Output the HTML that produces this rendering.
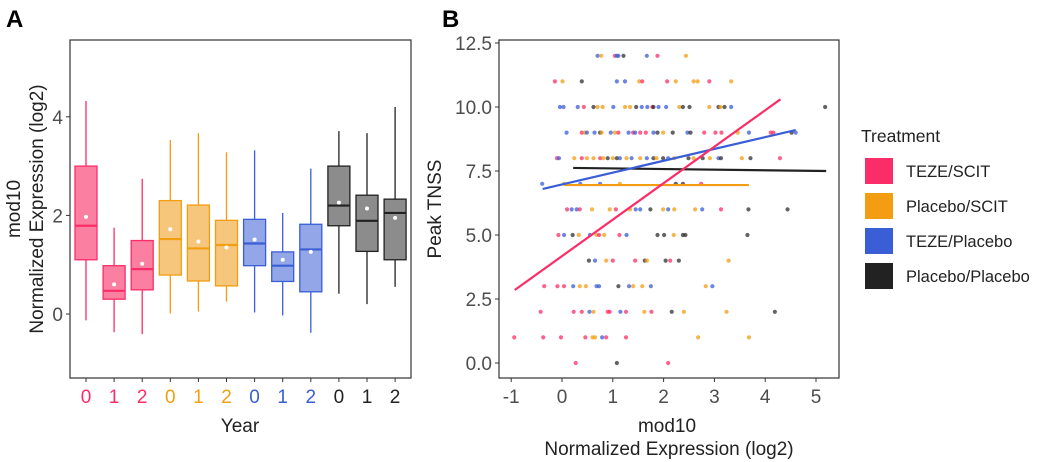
<!DOCTYPE html>
<html><head><meta charset="utf-8">
<style>
html,body{margin:0;padding:0;background:#fff;}
svg{display:block;font-family:"Liberation Sans",sans-serif;}
</style></head>
<body>
<svg id="chart" width="1050" height="462" viewBox="0 0 1050 462" xmlns="http://www.w3.org/2000/svg">
<text x="6" y="27" font-size="24" font-weight="bold">A</text>
<text x="442" y="27" font-size="24" font-weight="bold">B</text>
<g id="pa"></g>
<g id="pb"></g>
<g id="legend">
<text x="861" y="142" font-size="17.5" fill="#222">Treatment</text>
</g>
</svg>
<script>
const groupNames = ["TEZE/SCIT","Placebo/SCIT","TEZE/Placebo","Placebo/Placebo"];
const groupColors = ["#fb2d68","#f29d12","#3a5ed6","#222222"];
const boxFill = ["#fb7fa0","#f6c67c","#93a7e8","#8c8c8c"];
const boxLabels = ["0","1","2","0","1","2","0","1","2","0","1","2"];
const boxGroup = [0,0,0,1,1,1,2,2,2,3,3,3];
const boxLow = [-0.13,-0.37,-0.41,0.01,0.05,0.25,0.03,-0.03,-0.38,0.41,0.2,0.55];
const boxQ1 = [1.1,0.3,0.49,0.79,0.67,0.57,0.98,0.66,0.45,1.79,1.27,1.1];
const boxMed = [1.79,0.47,0.91,1.52,1.33,1.4,1.43,0.98,1.31,2.2,1.89,2.05];
const boxQ3 = [3.0,0.98,1.49,2.3,2.21,1.9,1.92,1.26,1.82,3.0,2.41,2.33];
const boxHigh = [4.32,1.75,2.74,3.53,3.67,3.28,3.32,2.05,2.95,3.71,3.67,4.2];
const boxMean = [1.97,0.6,1.02,1.72,1.47,1.35,1.51,1.1,1.26,2.26,2.14,1.95];
const aTicks = [0,2,4];

const bYTicks = [0,2.5,5,7.5,10,12.5];
const bXTicks = [-1,0,1,2,3,4,5];
const levelY = [12,11,10,9,8,7,6,5,4,3,2,1,0];
const levelPts = [
"b0.70 o0.77 p1.04 b1.08 b1.11 k1.21 b1.67 p1.88 o2.44",
"p-0.14 o0.01 k0.39 b1.08 b1.24 o1.52 p1.58 p2.07 o2.24 o2.59 o2.67 p2.90 o3.33",
"b-0.04 b0.03 b0.31 p0.43 k0.62 o0.70 o0.80 b1.01 o1.24 o1.34 k1.46 b1.57 b1.68 p1.78 k1.80 b1.90 b2.05 o2.31 k2.38 k2.51 o2.90 k3.08 o3.12 k3.20 b3.33 k5.18",
"b0.09 p0.39 o0.45 b0.49 b0.64 k0.75 o0.78 b0.96 o1.04 p1.11 b1.31 p1.40 b1.44 p1.54 p1.65 b1.80 k1.88 o1.99 k2.18 b2.47 k2.53 p2.80 p3.02 p3.14 o3.46 b3.68 p4.11 p4.16 k4.52 b4.60",
"p-0.10 b-0.06 o0.24 p0.39 o0.49 o0.62 p0.75 o0.81 k0.90 o1.00 k1.08 b1.14 o1.27 b1.37 o1.54 b1.67 k1.80 o1.86 k1.99 b2.09 o2.21 k2.49 o2.59 k2.77 o2.91 b3.08 k3.13 o3.54 k3.71 p4.29",
"b-0.39 o0.04 b0.36 b0.75 o1.14 k2.24 k2.38 p2.74",
"p0.10 b0.19 b0.29 p0.35 o0.59 o0.94 p1.06 o1.34 b1.45 b1.54 k1.74 o1.99 b2.09 o2.21 o2.62 b2.76 p3.13 k3.67 k4.44",
"p-0.07 b0.04 k0.21 o0.33 b0.55 o0.68 p0.73 o0.83 p1.13 b1.27 k1.88 k2.01 o2.20 k2.38 k2.43 k3.65",
"k0.53 b0.65 o0.87 p1.00 p1.44 k1.63 o1.67 k2.04 p2.13 k2.30 o3.28",
"p-0.35 p-0.09 p0.04 b0.22 o0.35 o0.47 b0.68 b0.73 k1.11 b1.32 o1.40 o1.58 b1.75 o2.83 b2.96",
"p-0.42 p0.23 p0.39 b0.54 o0.62 p0.90 p0.94 b1.15 p1.26 o1.62 p1.76 k2.16 o2.40 o3.24 k4.19",
"p-0.94 p-0.37 p-0.02 p0.46 o0.60 o0.65 b0.79 p0.87 p1.26 o2.68 o3.68",
"p0.27 k1.08 p2.09"
];
const fitX0 = [-0.93,0.05,-0.38,0.22];
const fitY0 = [2.85,6.95,6.8,7.62];
const fitX1 = [4.3,3.68,4.6,5.2];
const fitY1 = [10.3,6.95,9.1,7.5];

const NS="http://www.w3.org/2000/svg";
function mk(parent,tag,attrs,text){const e=document.createElementNS(NS,tag);for(const k in attrs)e.setAttribute(k,attrs[k]);if(text!==undefined)e.textContent=text;parent.appendChild(e);return e;}

// Panel A
const pa=document.getElementById('pa');
const aL=70,aR=411,aT=40,aB=378;
const ay=v=>314-v*49.3;
const ax=i=>86+i*28.1;
let fr=mk(pa,'rect',{x:aL,y:aT,width:aR-aL,height:aB-aT,fill:'none',stroke:'#333','stroke-width':1.2});

aTicks.forEach(t=>{
  let l=mk(pa,'line',{x1:aL-4,x2:aL,y1:ay(t),y2:ay(t),stroke:'#333'});
  
  let tx=mk(pa,'text',{x:aL-7,y:ay(t)+7,'font-size':19,fill:'#4d4d4d','text-anchor':'end'},String(t));
  
});
boxLabels.forEach((lab,i)=>{
  const g=boxGroup[i],c=groupColors[g],x=ax(i),w=22;
  const bg=mk(pa,'g',{});
  
  mk(bg,'line',{x1:x,x2:x,y1:ay(boxHigh[i]),y2:ay(boxLow[i]),stroke:c,'stroke-width':1.3});
  mk(bg,'rect',{x:x-w/2,y:ay(boxQ3[i]),width:w,height:ay(boxQ1[i])-ay(boxQ3[i]),fill:boxFill[g],stroke:c,'stroke-width':1.3});
  mk(bg,'line',{x1:x-w/2,x2:x+w/2,y1:ay(boxMed[i]),y2:ay(boxMed[i]),stroke:c,'stroke-width':2.2});
  mk(bg,'circle',{cx:x,cy:ay(boxMean[i]),r:2,fill:'#fff'});
  let tk=mk(pa,'line',{x1:x,x2:x,y1:aB,y2:aB+4,stroke:'#333'});
  
  let tl=mk(pa,'text',{x:x,y:aB+25,'font-size':19,fill:c,'text-anchor':'middle'},lab);
  
});
let xt=mk(pa,'text',{x:240,y:432,'font-size':19,fill:'#222','text-anchor':'middle'},'Year');

let yt=mk(pa,'text',{transform:'translate(20,209) rotate(-90)','font-size':19,fill:'#222','text-anchor':'middle'});

mk(yt,'tspan',{x:0,dy:0},'mod10');mk(yt,'tspan',{x:0,dy:23},'Normalized Expression (log2)');

// Panel B
const pb=document.getElementById('pb');
const bL=499,bR=839,bT=40,bB=378;
const bx=v=>562+v*50.8;
const by=v=>363-v*25.6;
let fb=mk(pb,'rect',{x:bL,y:bT,width:bR-bL,height:bB-bT,fill:'none',stroke:'#333','stroke-width':1.2});

bYTicks.forEach(t=>{
  let l=mk(pb,'line',{x1:bL-4,x2:bL,y1:by(t),y2:by(t),stroke:'#333'});
  
  let tx=mk(pb,'text',{x:bL-7,y:by(t)+7,'font-size':19,fill:'#4d4d4d','text-anchor':'end'},t.toFixed(1));
  
});
bXTicks.forEach(t=>{
  let l=mk(pb,'line',{x1:bx(t),x2:bx(t),y1:bB,y2:bB+4,stroke:'#333'});
  
  let tx=mk(pb,'text',{x:bx(t),y:bB+25,'font-size':19,fill:'#4d4d4d','text-anchor':'middle'},String(t));
  
});
const gi={p:0,o:1,b:2,k:3};
levelPts.forEach((s,li)=>{
  s.split(' ').forEach(tok=>{
    const g=gi[tok[0]],v=parseFloat(tok.slice(1));
    let c=mk(pb,'circle',{cx:bx(v),cy:by(levelY[li]),r:2.1,fill:groupColors[g],'fill-opacity':g===3?0.7:0.75});
    
  });
});
[3,1,2,0].forEach(g=>{
  let l=mk(pb,'line',{x1:bx(fitX0[g]),y1:by(fitY0[g]),x2:bx(fitX1[g]),y2:by(fitY1[g]),stroke:groupColors[g],'stroke-width':2.2});
  
});
let bxt=mk(pb,'text',{'font-size':19,fill:'#222','text-anchor':'middle'});

mk(bxt,'tspan',{x:667,y:432},'mod10');mk(bxt,'tspan',{x:669,y:455},'Normalized Expression (log2)');
let byt=mk(pb,'text',{transform:'translate(441,209) rotate(-90)','font-size':19,fill:'#222','text-anchor':'middle'},'Peak TNSS');


// Legend
const lg=document.getElementById('legend');
groupNames.forEach((n,i)=>{
  const y=158+i*35;
  let r=mk(lg,'rect',{x:865,y:y,width:28,height:26,fill:groupColors[i]});
  
  let t=mk(lg,'text',{x:906,y:y+19,'font-size':16.5,fill:'#222'},n);
  
});
</script>
</body></html>
